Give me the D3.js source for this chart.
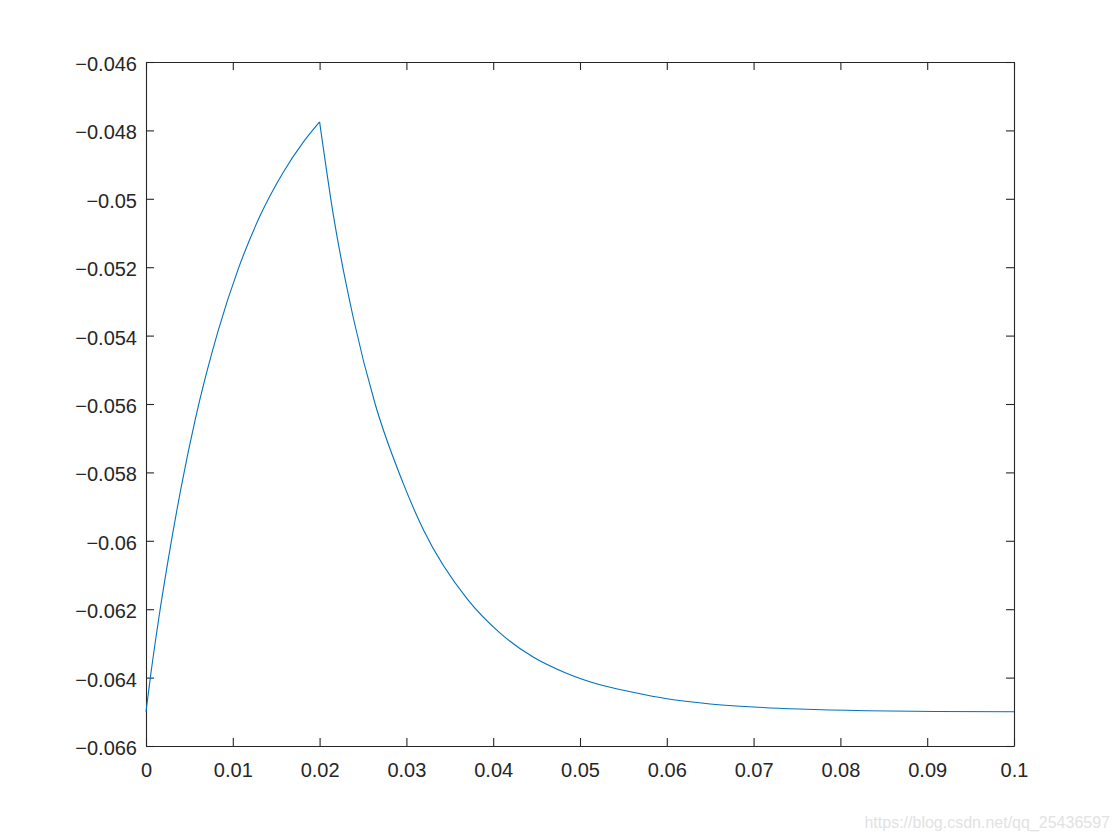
<!DOCTYPE html>
<html>
<head>
<meta charset="utf-8">
<script src="https://cdn.jsdelivr.net/npm/d3@7"></script>
<style>
  body { margin: 0; background: #fff; }
  svg text { font-family: "Liberation Sans", Arial, Helvetica, sans-serif; }
</style>
</head>
<body>
<div id="chart"></div>
<script>
// rising part (0 -> 0.02 s)
var riseT = [0, 0.0005, 0.0015, 0.0025, 0.0041, 0.0057, 0.0083, 0.0106, 0.0131, 0.0158, 0.0181, 0.0200];
var riseV = [-0.0650, -0.0640, -0.06222, -0.06064, -0.05837, -0.05642, -0.05387, -0.05207, -0.05052, -0.04923, -0.04835, -0.04775];

// decay part (0.02 -> 0.1 s)
var decayT = [0.0200, 0.0216, 0.0239, 0.0264, 0.0296, 0.0320, 0.0370, 0.0408, 0.0446, 0.0485, 0.0523,
              0.0561, 0.0600, 0.0650, 0.0700, 0.0753, 0.0830, 0.0910, 0.1000];
var decayV = [-0.04775, -0.0505, -0.0535, -0.0560, -0.0583, -0.0597, -0.0617, -0.0627, -0.0634, -0.06388, -0.06421,
              -0.06443, -0.06462, -0.06477, -0.06486, -0.06492, -0.06497, -0.06499, -0.06500];

var xTicks = [0, 0.01, 0.02, 0.03, 0.04, 0.05, 0.06, 0.07, 0.08, 0.09, 0.1];
var xTickLabels = ["0", "0.01", "0.02", "0.03", "0.04", "0.05", "0.06", "0.07", "0.08", "0.09", "0.1"];
var yTicks = [-0.066, -0.064, -0.062, -0.06, -0.058, -0.056, -0.054, -0.052, -0.05, -0.048, -0.046];
var yTickLabels = ["−0.066", "−0.064", "−0.062", "−0.06", "−0.058", "−0.056", "−0.054", "−0.052", "−0.05", "−0.048", "−0.046"];

var svgWidth = 1120;
var svgHeight = 840;
var margin = { top: 62, right: 106, bottom: 94, left: 146 };
var width = svgWidth - margin.left - margin.right;
var height = svgHeight - margin.top - margin.bottom;
var axisColor = "#262626";

var svg = d3.select("#chart")
    .append("svg")
    .attr("width", svgWidth)
    .attr("height", svgHeight)
    .append("g")
    .attr("transform", "translate(" + margin.left + "," + margin.top + ")");

var x = d3.scaleLinear().domain([0, 0.1]).range([0, width]);
var y = d3.scaleLinear().domain([-0.066, -0.046]).range([height, 0]);

// MATLAB style box: inward ticks on all four sides, labels on bottom/left
var bottomAxis = d3.axisBottom(x).tickValues(xTicks)
    .tickFormat(function(d, i) { return xTickLabels[i]; })
    .tickSizeInner(-8).tickSizeOuter(0).tickPadding(17);
var leftAxis = d3.axisLeft(y).tickValues(yTicks)
    .tickFormat(function(d, i) { return yTickLabels[i]; })
    .tickSizeInner(-8).tickSizeOuter(0).tickPadding(9);
var topAxis = d3.axisTop(x).tickValues(xTicks).tickFormat("")
    .tickSizeInner(-8).tickSizeOuter(0);
var rightAxis = d3.axisRight(y).tickValues(yTicks).tickFormat("")
    .tickSizeInner(-8).tickSizeOuter(0);

var gx = svg.append("g").attr("transform", "translate(0," + height + ")").call(bottomAxis);
var gy = svg.append("g").call(leftAxis);
var gt = svg.append("g").call(topAxis);
var gr = svg.append("g").attr("transform", "translate(" + width + ",0)").call(rightAxis);

[gx, gy, gt, gr].forEach(function(g) {
    g.selectAll("path").attr("stroke", axisColor).attr("stroke-width", 1.1);
    g.selectAll("line").attr("stroke", axisColor).attr("stroke-width", 1.1);
    g.selectAll("text").attr("fill", axisColor).style("font-size", "20px");
});
gy.selectAll("text").attr("dy", "0.42em");

var line = d3.line()
    .x(function(d) { return x(d[0]); })
    .y(function(d) { return y(d[1]); })
    .curve(d3.curveMonotoneX);

var rise = riseT.map(function(t, i) { return [t, riseV[i]]; });
var decay = decayT.map(function(t, i) { return [t, decayV[i]]; });

[rise, decay].forEach(function(seg) {
    svg.append("path")
        .datum(seg)
        .attr("fill", "none")
        .attr("stroke", "#0072BD")
        .attr("stroke-width", 1.1)
        .attr("d", line);
});

// watermark
d3.select("svg").append("text")
    .attr("x", 1110)
    .attr("y", 828)
    .attr("text-anchor", "end")
    .attr("fill", "#e2e2e2")
    .style("font-size", "16px")
    .text("https://blog.csdn.net/qq_25436597");
</script>
</body>
</html>
